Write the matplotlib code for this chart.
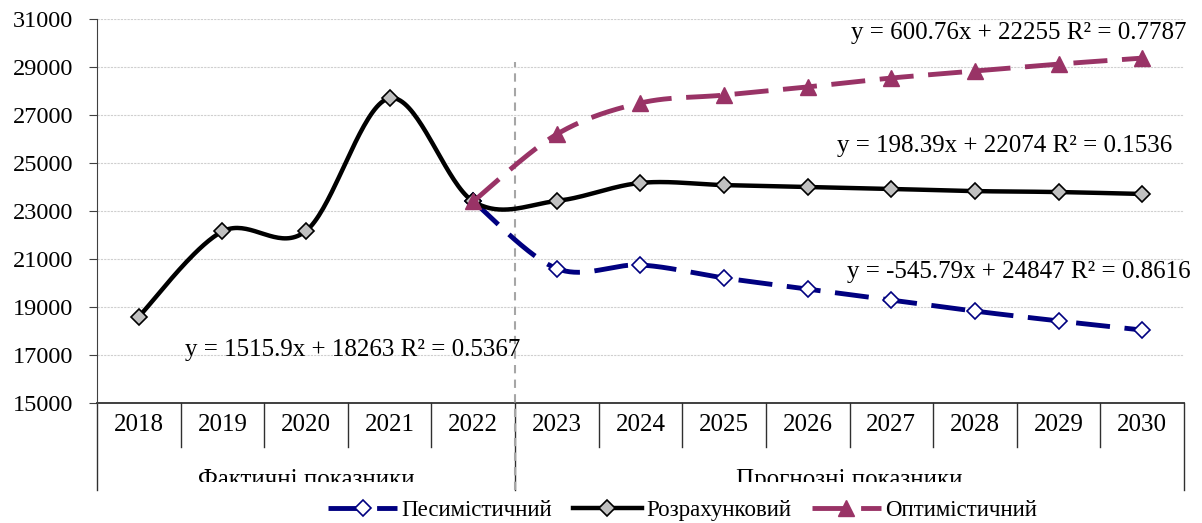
import numpy as np
import matplotlib.pyplot as plt
from matplotlib.lines import Line2D
from matplotlib.patches import Rectangle

# Data
years = [str(y) for y in range(2018, 2031)]
calculated = [18600, 22150, 22170, 27700, 23400, 23420, 24170,
              24080, 24000, 23920, 23830, 23790, 23710]
forecast_start = 4  # index of 2022, where scenarios begin
pessimistic = [23400, 20600, 20750, 20210, 19750, 19290, 18830, 18420, 18040]
optimistic = [23400, 26200, 27500, 27830, 28170, 28540, 28830, 29120, 29370]
groups = ["Фактичні показники", "Прогнозні показники"]
group_span = [(0, 4), (5, 12)]
equations = [
    ("y = 1515.9x + 18263 R² = 0.5367", 2.56, 17200),
    ("y = 198.39x + 22074 R² = 0.1536", 10.36, 25700),
    ("y = 600.76x + 22255 R² = 0.7787", 10.52, 30420),
    ("y = -545.79x + 24847 R² = 0.8616", 10.52, 20460),
]

NAVY = "#000080"
MAROON = "#993366"
SERIF = "Liberation Serif"


def smooth(x, y, n=40):
    """Bezier smoothing through points (like Excel's smoothed line)."""
    x = np.asarray(x, float)
    y = np.asarray(y, float)
    px = np.concatenate([[x[0]], x, [x[-1]]])
    py = np.concatenate([[y[0]], y, [y[-1]]])
    xs, ys = [], []
    t = np.linspace(0, 1, n)
    for i in range(1, len(px) - 2):
        p0x, p0y = px[i], py[i]
        p3x, p3y = px[i + 1], py[i + 1]
        c1x = p0x + (px[i + 1] - px[i - 1]) / 6
        c1y = p0y + (py[i + 1] - py[i - 1]) / 6
        c2x = p3x - (px[i + 2] - px[i]) / 6
        c2y = p3y - (py[i + 2] - py[i]) / 6
        b0 = (1 - t) ** 3
        b1 = 3 * (1 - t) ** 2 * t
        b2 = 3 * (1 - t) * t ** 2
        b3 = t ** 3
        xs.append(b0 * p0x + b1 * c1x + b2 * c2x + b3 * p3x)
        ys.append(b0 * p0y + b1 * c1y + b2 * c2y + b3 * p3y)
    return np.concatenate(xs), np.concatenate(ys)


fig = plt.figure(figsize=(12.02, 5.23), dpi=100)
ax = fig.add_axes([0.0807, 0.2294, 0.9043, 0.7343])

x_all = np.arange(len(years))
x_fc = np.arange(forecast_start, len(years))

dash = (0, (7, 3))

# Pessimistic
sx, sy = smooth(x_fc, pessimistic)
ax.plot(sx, sy, color=NAVY, lw=3.5, ls=dash, zorder=3)
ax.plot(x_fc, pessimistic, ls="none", marker="D", ms=8.5, mfc="white",
        mec=NAVY, mew=1.2, zorder=4)

# Calculated
sx, sy = smooth(x_all, calculated)
ax.plot(sx, sy, color="black", lw=3.2, zorder=5)
ax.plot(x_all, calculated, ls="none", marker="D", ms=8.5, mfc="#c0c0c0",
        mec="black", mew=1.2, zorder=6)

# Optimistic
sx, sy = smooth(x_fc, optimistic)
ax.plot(sx, sy, color=MAROON, lw=3.5, ls=dash, zorder=7)
ax.plot(x_fc, optimistic, ls="none", marker="^", ms=11, mfc=MAROON,
        mec=MAROON, zorder=8)

# Axes formatting
ax.set_xlim(-0.5, len(years) - 0.5)
ax.set_ylim(15000, 31000)
ax.set_yticks(np.arange(15000, 31001, 2000))
ax.yaxis.grid(True, color="#cfcfcf", ls=(0, (2, 1)), lw=0.8)
ax.set_axisbelow(True)
for side in ["top", "right", "bottom"]:
    ax.spines[side].set_visible(False)
ax.spines["left"].set_color("#404040")
ax.tick_params(axis="y", direction="out", length=6, color="#404040",
               labelsize=17.5, pad=11)
for lab in ax.get_yticklabels():
    lab.set_fontfamily(SERIF)
ax.set_xticks([])

xt = ax.get_xaxis_transform()
axis_col = "#303030"
ax.plot([-0.5, len(years) - 0.5], [0, 0], transform=xt, color=axis_col,
        lw=1.3, clip_on=False)
for b in np.arange(0.5, len(years) - 1, 1.0):
    if b == forecast_start + 0.5:
        continue
    ax.plot([b, b], [0, -0.1146], transform=xt, color=axis_col, lw=1.0,
            clip_on=False)
for b in [-0.5, forecast_start + 0.5, len(years) - 0.5]:
    ax.plot([b, b], [0, -0.2266], transform=xt, color=axis_col, lw=1.0,
            clip_on=False)

for i, yr in enumerate(years):
    ax.text(i, -0.057, yr, transform=xt, ha="center", va="center",
            fontsize=18, family=SERIF)

# group labels are cut off at the bottom, as in the original
clip = Rectangle((0, 0.0784), 1, 1, transform=fig.transFigure)
for name, (a, b) in zip(groups, group_span):
    t = ax.text((a + b) / 2, -0.216, name, transform=xt, ha="center",
                va="baseline", fontsize=18, family=SERIF, clip_on=True)
    t.set_clip_path(clip)

# Divider between actual and forecast data
ax.plot([forecast_start + 0.5] * 2, [-0.2266, 0.888], transform=xt,
        color="#a6a6a6", lw=1.5, ls=(0, (4, 3)), clip_on=False, zorder=2)

# Trendline equations
for txt, ex, ey in equations:
    ax.text(ex, ey, txt, ha="center", va="center", fontsize=18,
            family=SERIF, zorder=9)

# Legend
handles = [
    Line2D([], [], color=NAVY, lw=3.5, ls=dash, marker="D", ms=8.5,
           mfc="white", mec=NAVY, mew=1.2),
    Line2D([], [], color="black", lw=3.2, marker="D", ms=8.5,
           mfc="#c0c0c0", mec="black", mew=1.2),
    Line2D([], [], color=MAROON, lw=3.5, ls=dash, marker="^", ms=11,
           mfc=MAROON, mec=MAROON),
]
labels = ["Песимістичний", "Розрахунковий", "Оптимістичний"]
fig.legend(handles, labels, loc="center", bbox_to_anchor=(0.568, 0.024),
           ncol=3, frameon=False, handlelength=3.0, handletextpad=0.2,
           columnspacing=0.9, prop={"family": SERIF, "size": 16.5})

fig.savefig("out.png", dpi=100)
